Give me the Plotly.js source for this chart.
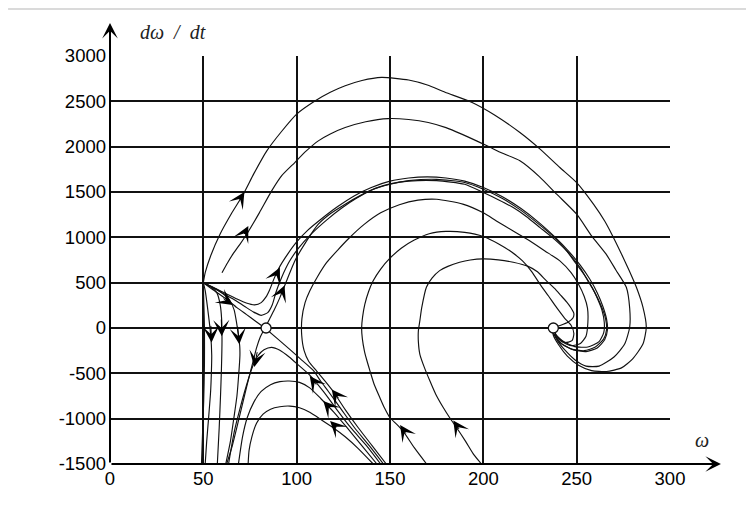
<!DOCTYPE html>
<html>
<head>
<meta charset="utf-8">
<script src="https://cdn.plot.ly/plotly-3.0.1.min.js"></script>
<style>html,body{margin:0;padding:0;background:#fff;}#chart{width:746px;height:506px;}</style>
</head>
<body>
<div id="chart"></div>
<script>
// ---- tick labels ----
const xTickVals = [0, 50, 100, 150, 200, 250, 300];
const xTickText = ['0', '50', '100', '150', '200', '250', '300'];
const yTickVals = [-1500, -1000, -500, 0, 500, 1000, 1500, 2000, 2500, 3000];
const yTickText = ['-1500', '-1000', '-500', '0', '500', '1000', '1500', '2000', '2500', '3000'];

// ---- phase trajectories [omega, domega/dt], in flow order ----
const curveA = [[50,500],[51,610],[54,800],[59,1037],[65,1260],[71.4,1476],[77,1700],[84,1954],[92,2170],[100,2359],[110,2506],[118,2600],[126,2672],[135,2730],[145.5,2764],[160,2735],[170,2680],[179.5,2600],[194,2488],[206,2350],[219.6,2156],[230.4,1973],[241,1770],[250,1604],[259,1366],[265,1180],[268.8,1035],[274,817],[278,640],[282,449],[285.5,230],[287.3,8],[285.5,-177],[280,-340],[274,-440],[266,-480],[258,-470],[251,-410],[245,-310],[240.5,-190],[237.5,-80],[237,-20]];
const curveB = [[60,610],[63,720],[66,820],[69.5,920],[73.2,1034],[80,1270],[86.6,1512],[92,1680],[99,1825],[105,1950],[111.6,2064],[118,2140],[126,2211],[137,2275],[149,2310],[160,2300],[170.5,2267],[180,2210],[188.4,2138],[202,2009],[210,1930],[219.6,1844],[230,1670],[239.3,1476],[250,1255],[258,1016],[265.7,817],[271,640],[276.6,449],[278.4,220],[278.4,8],[275.7,-177],[270,-320],[262,-420],[255,-420],[249,-350],[244,-250],[240,-150],[237.5,-50]];
const curveC1 = [[83,0],[85.5,100],[88,200],[91,335],[95,540],[99,740],[105,950],[111.6,1145],[118,1260],[126,1366],[134,1460],[142,1540],[150,1590],[160,1620],[175,1625],[190,1585],[200,1494],[208,1415],[216,1328],[223,1230],[230.4,1107],[238,980],[244.6,850],[250,700],[255,560],[258.5,440],[261,330],[263.5,200],[264.8,60],[264.5,-50],[262,-150],[256,-210],[249,-205],[243,-150],[238.5,-70]];
const curveC2 = [[50,500],[58,410],[66,320],[72,240],[77,175],[81,140],[84.5,170],[87,260],[89,400],[92,560],[96,730],[101,880],[108,1040],[116,1190],[124,1320],[132,1430],[140,1520],[150,1585],[160,1625],[175,1640],[190,1605],[200,1530],[210,1430],[220,1300],[230,1140],[238,1000],[246,820],[252,660],[256,520],[260,380],[263,250],[265.5,100],[266,-20],[264.5,-120],[260,-210],[254,-250],[247,-230],[241,-160],[237.5,-60]];
const curveC3 = [[50,500],[56,440],[62,380],[68,320],[73,275],[77.5,255],[81,280],[83.5,340],[85.5,420],[88,550],[91,680],[95,810],[100,950],[106,1080],[113,1200],[122,1340],[131,1460],[140,1550],[150,1620],[160,1655],[170,1667],[180,1655],[190,1620],[200,1550],[210,1450],[220,1320],[230,1160],[238,1010],[246,840],[252,690],[257,540],[261,390],[264,240],[266,100],[266.5,-20],[265,-130],[261,-220],[255,-260],[248,-240],[242,-175],[238,-70]];
const curveD = [[148,-1500],[140.5,-1300],[133,-1100],[126,-900],[119.6,-700],[115,-580],[110.7,-475],[106.5,-370],[104,-250],[102.7,-80],[102.8,100],[104.5,280],[107,408],[111,560],[116,720],[122,860],[128,990],[136,1140],[145,1270],[155,1360],[165,1410],[175,1420],[189,1366],[200,1270],[207,1181],[216,1070],[225,960],[233,850],[241,740],[247,610],[251,482],[254,350],[255.8,220],[256,60],[255,-90],[252,-170],[247,-195],[242,-150],[238.5,-70]];
const curveP = [[169.6,-1500],[163,-1320],[157,-1137],[153.5,-1060],[150,-990],[147,-880],[144.6,-769],[141.5,-620],[139.3,-475],[137.5,-350],[136.3,-254],[135.2,-120],[134.8,0],[135.3,120],[136.5,260],[138.5,400],[141,520],[145,650],[150,770],[156,880],[163,970],[171,1040],[180,1065],[190,1055],[200,1010],[208,930],[215,840],[221,740],[226,620],[230.4,482],[235,350],[239.3,224],[243.5,110],[247,30],[248.5,-60],[247.5,-140],[243.5,-160],[239.5,-90],[238,-40]];
const curveQ = [[199,-1500],[195,-1400],[190.5,-1250],[185.7,-1100],[182,-990],[178.6,-880],[174.5,-730],[171.4,-585],[168.5,-440],[166,-290],[165.2,-150],[165.2,-30],[166,81],[167,224],[169.5,449],[172.5,550],[176.6,633],[181,680],[187.3,725],[193,750],[199.8,762],[208,752],[216,725],[224,680],[229,620],[233.7,522],[238,440],[241.5,360],[244.5,290],[247,220],[248.5,160],[248,110],[245.5,65],[241.5,30],[239,15]];
const curveSUpper = [[50,500],[56,410],[62.5,317],[68,225],[73,150],[78,75],[83,0]];
const curveSLower = [[146.5,-1500],[139,-1300],[131,-1100],[124,-900],[117,-700],[113,-590],[109,-471],[102,-340],[96,-230],[89.5,-115],[83,0]];
const curveG = [[145,-1500],[137.5,-1300],[129,-1100],[121.5,-900],[114.3,-700],[107,-520],[101,-410],[96,-320],[91,-245],[86.5,-213],[82.5,-240],[79.5,-300],[76.5,-420],[73,-640],[69.5,-900],[66.5,-1150],[63.5,-1500]];
const curveH1 = [[143,-1500],[135,-1300],[127,-1100],[120,-930],[113,-780],[107,-660],[101.5,-600],[96,-585],[91,-592],[86,-625],[81,-700],[77,-820],[73.5,-990],[71,-1200],[68.8,-1500]];
const curveH2 = [[141,-1500],[133,-1330],[126,-1200],[119.6,-1100],[113,-1010],[107,-930],[101.5,-880],[96.4,-861],[91,-868],[86,-895],[82,-950],[78.5,-1050],[76,-1200],[74.5,-1350],[74,-1500]];
const curveU = [[83,0],[80.5,-100],[78.5,-220],[77,-340],[75,-500],[72,-750],[68.5,-1050],[65.5,-1300],[62.5,-1500]];
const curveE0 = [[50,500],[50.3,250],[50.6,0],[50.6,-400],[50.2,-800],[49.6,-1150],[49,-1500]];
const curveE1 = [[50,500],[51,412],[52.7,151],[53.9,-66],[54.5,-300],[54.3,-500],[53.9,-700],[52.7,-1023],[51.8,-1250],[51,-1500]];
const curveE2 = [[50,500],[54,455],[57.2,390],[59,260],[59.8,100],[60,-140],[59.7,-450],[59.2,-750],[58.5,-1100],[57.5,-1500]];
const curveE3 = [[50,500],[57,430],[61,370],[64.3,301],[66.5,200],[67.8,60],[68.7,-66],[69.5,-200],[69.6,-300],[69,-500],[68,-750],[66.3,-1000],[64.5,-1250],[62,-1500]];

// ---- direction arrows on trajectories (tail -> tip) ----
const arrowTailX = [69, 71.5, 88.5, 91.3, 60, 54.0, 59.6, 68.3, 79, 111, 123, 118.5, 122, 159, 187.5];
const arrowTailY = [1400, 1020, 560, 360, 335, 40, 110, 30, -250, -640, -790, -900, -1110, -1180, -1130];
const arrowTipX  = [72, 74.1, 91, 93.5, 65.7, 54.4, 59.9, 69.3, 77.3, 107, 118.8, 114.3, 117.9, 155.4, 183.9];
const arrowTipY  = [1500, 1126, 666, 470, 254, -160, -90, -180, -430, -530, -677, -806, -1027, -1071, -1019];

// ---- equilibrium points (saddle, focus) ----
const eqX = [83.6, 237.5];
const eqY = [0, 0];

const curves = [curveA, curveB, curveC1, curveC2, curveC3, curveD, curveP, curveQ,
  curveSUpper, curveSLower, curveG, curveH1, curveH2, curveU, curveE0, curveE1, curveE2, curveE3];

const lineColor = '#111';
const traces = curves.map(c => ({
  type: 'scatter', mode: 'lines',
  x: c.map(p => p[0]), y: c.map(p => p[1]),
  line: {color: lineColor, width: 1.15, shape: 'spline', smoothing: 0.6},
  hoverinfo: 'skip', showlegend: false
}));
traces.push({
  type: 'scatter', mode: 'markers', x: eqX, y: eqY,
  marker: {symbol: 'circle', size: 10, color: '#fff', line: {color: '#111', width: 1.3}},
  hoverinfo: 'skip', showlegend: false, cliponaxis: false
});

const annotations = arrowTipX.map((x, i) => ({
  x: x, y: arrowTipY[i], ax: arrowTailX[i], ay: arrowTailY[i],
  xref: 'x', yref: 'y', axref: 'x', ayref: 'y',
  text: '', showarrow: true, arrowhead: 3, arrowsize: 2.7, arrowwidth: 1,
  arrowcolor: '#000', standoff: 0
}));
// axis arrows
annotations.push({xref: 'paper', yref: 'paper', x: 0, y: 1.081, ax: 0, ay: 441,
  text: '', showarrow: true, arrowhead: 3, arrowsize: 1.3, arrowwidth: 2, arrowcolor: '#000', standoff: 0});
annotations.push({xref: 'paper', yref: 'paper', x: 1.091, y: 0, ax: -611, ay: 0,
  text: '', showarrow: true, arrowhead: 3, arrowsize: 1.3, arrowwidth: 2, arrowcolor: '#000', standoff: 0});
// axis names
annotations.push({xref: 'paper', yref: 'paper', x: 0.05, y: 1.06, xanchor: 'left', yanchor: 'middle',
  text: 'dω\u00a0\u00a0/\u00a0\u00a0dt', showarrow: false,
  font: {family: 'Liberation Serif, Times New Roman, serif', size: 20, color: '#222', style: 'italic'}});
annotations.push({xref: 'paper', yref: 'paper', x: 1.057, y: 0.06, xanchor: 'center', yanchor: 'middle',
  text: 'ω', showarrow: false,
  font: {family: 'Liberation Serif, Times New Roman, serif', size: 20, color: '#222', style: 'italic'}});

const layout = {
  width: 746, height: 506,
  margin: {l: 110, r: 76, t: 56, b: 42},
  paper_bgcolor: '#fff', plot_bgcolor: '#fff',
  font: {family: 'Liberation Sans, Arial, sans-serif', size: 18.5, color: '#000'},
  xaxis: {range: [0, 300], tickvals: xTickVals, ticktext: xTickText, showgrid: true,
    gridcolor: '#111', gridwidth: 2, zeroline: false, showline: false, ticks: '',
    fixedrange: true, ticklabelstandoff: 1},
  yaxis: {range: [-1500, 3000], tickvals: yTickVals, ticktext: yTickText, showgrid: true,
    gridcolor: '#111', gridwidth: 2, zeroline: false, showline: false, ticks: '',
    fixedrange: true, ticklabelstandoff: 3},
  shapes: [
    {type: 'line', xref: 'paper', yref: 'paper', x0: -0.182, x1: 1.14, y0: 1.115, y1: 1.115,
     line: {color: '#dadada', width: 2}}
  ],
  annotations: annotations,
  showlegend: false
};

Plotly.newPlot('chart', traces, layout, {displayModeBar: false, staticPlot: true});
</script>
</body>
</html>
